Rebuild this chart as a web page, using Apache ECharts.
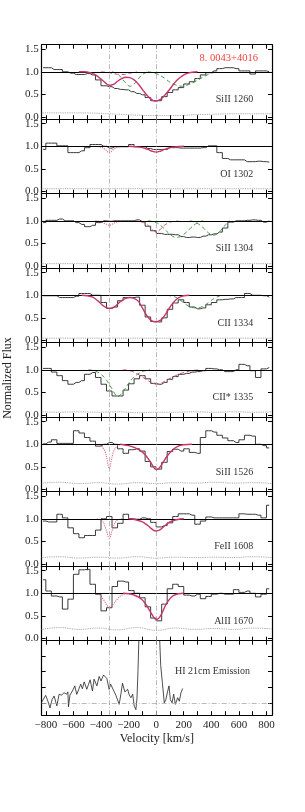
<!DOCTYPE html>
<html><head><meta charset="utf-8">
<script src="https://cdn.jsdelivr.net/npm/echarts@6/dist/echarts.min.js"></script>
<style>html,body{margin:0;padding:0;background:#fff}#c{width:305px;height:812px}</style>
</head><body><div id="c"></div>
<script>
// ---------- DATA ----------
const velGrid = [-820,-780,-740,-700,-660,-620,-580,-540,-500,-460,-420,-380,-340,-300,-260,-220,-180,-140,-100,-60,-20,20,60,100,140,180,220,260,300,340,380,420,460,500,540,580,620,660,700,740,780,820];
const flux1260 = [1.09,1.09,1.05,1.05,1.0,0.97,0.94,0.94,0.96,0.93,0.82,0.69,0.67,0.63,0.61,0.60,0.56,0.52,0.49,0.43,0.36,0.36,0.45,0.54,0.60,0.65,0.73,0.78,0.85,0.93,0.98,1.02,1.07,1.09,1.09,1.07,1.02,1.02,0.95,1.02,1.02,1.0];
const flux1302 = [0.93,1.07,1.07,1.01,1.01,0.86,0.86,0.9,0.97,1.04,1.04,1.0,0.96,0.99,0.99,0.99,1.04,0.99,0.99,0.95,0.93,0.93,0.93,0.97,0.97,0.96,0.96,0.96,0.96,0.97,1.01,1.01,0.86,0.73,0.7,0.7,0.7,0.66,0.66,0.67,0.66,0.65];
const flux1304 = [0.96,1.01,1.01,1.04,1.0,1.0,0.96,0.92,0.87,0.9,0.96,1.0,0.99,1.0,1.0,1.0,1.0,1.02,0.98,0.88,0.78,0.72,0.70,0.70,0.69,0.65,0.63,0.64,0.63,0.66,0.69,0.71,0.75,0.84,0.97,1.0,1.0,1.01,1.02,1.01,0.97,1.0];
const flux1334 = [0.99,0.99,0.99,0.95,0.95,0.95,0.98,1.04,1.04,1.0,1.0,0.84,0.71,0.74,0.88,0.95,0.95,0.96,0.78,0.52,0.42,0.41,0.5,0.69,0.83,0.9,0.84,0.74,0.7,0.72,0.79,0.84,0.9,0.91,0.92,0.95,0.95,1.04,1.0,1.0,0.99,0.96];
const flux1335 = [1.03,1.03,0.95,0.87,0.76,0.68,0.72,0.76,0.9,0.94,0.83,0.68,0.53,0.42,0.42,0.55,0.69,0.8,0.87,0.8,0.7,0.68,0.72,0.79,0.85,0.9,0.92,0.95,0.96,0.98,1.03,1.02,1.0,0.96,0.96,1.0,1.12,1.09,0.98,0.83,1.02,1.05];
const flux1526 = [1.01,1.05,1.1,1.02,1.02,1.02,1.3,1.25,1.15,1.07,0.96,1.0,1.04,1.0,0.9,0.8,0.88,0.9,0.85,0.62,0.5,0.45,0.6,0.84,0.89,0.85,0.9,0.82,0.8,1.15,1.3,1.27,1.2,1.14,1.08,1.04,1.1,1.2,1.18,1.0,0.97,0.92];
const flux1608 = [0.95,0.93,0.93,1.1,1.02,0.8,0.67,0.58,0.63,0.63,0.75,1.0,1.05,0.8,0.9,1.1,1.0,0.99,1.02,1.0,0.92,0.82,0.85,0.91,1.05,1.11,1.11,1.08,0.88,0.95,1.04,1.02,1.02,1.02,1.02,1.02,1.11,1.1,1.1,1.08,1.02,1.3];
const flux1670 = [1.3,1.05,0.94,0.92,0.65,0.87,1.42,1.52,1.53,1.2,0.98,0.61,0.68,1.15,1.27,1.25,1.06,1.0,0.9,0.7,0.45,0.39,0.76,1.1,1.2,1.15,0.96,0.94,0.98,0.88,0.93,0.98,1.0,0.98,0.98,1.08,1.02,1.05,1.0,0.92,0.98,1.1];

const errVel = [-830,-700,-560,-420,-280,-140,0,140,280,420,560,700,840];
const err1260 = [0.09,0.09,0.09,0.08,0.06,0.04,0.03,0.03,0.05,0.06,0.07,0.07,0.07];
const err1302 = [0.06,0.06,0.06,0.06,0.06,0.06,0.06,0.06,0.06,0.06,0.06,0.06,0.06];
const err1304 = [0.05,0.05,0.05,0.05,0.05,0.05,0.05,0.05,0.05,0.05,0.05,0.05,0.05];
const err1334 = [0.05,0.05,0.05,0.05,0.05,0.05,0.05,0.05,0.05,0.05,0.05,0.05,0.05];
const err1335 = [0.07,0.06,0.07,0.06,0.07,0.05,0.06,0.06,0.07,0.06,0.07,0.06,0.07];
const err1526 = [0.14,0.16,0.13,0.15,0.12,0.15,0.13,0.15,0.14,0.16,0.14,0.15,0.13];
const err1608 = [0.14,0.16,0.13,0.15,0.13,0.16,0.13,0.15,0.14,0.15,0.14,0.16,0.14];
const err1670 = [0.2,0.24,0.2,0.23,0.19,0.24,0.18,0.23,0.2,0.22,0.2,0.23,0.21];

// model components
const fit1260Vel = [-560,-520,-480,-440,-400,-370,-340,-310,-280,-250,-220,-190,-160,-130,-100,-70,-40,-20,0,20,40,70,100,130,160,190,220,260,300];
const fit1260Flux = [1.0,1.0,0.98,0.93,0.84,0.76,0.70,0.72,0.79,0.85,0.88,0.87,0.82,0.73,0.61,0.49,0.40,0.36,0.35,0.37,0.41,0.51,0.62,0.74,0.84,0.91,0.96,0.99,1.0];
const grnA1260Vel = [-320,-280,-250,-220,-190,-160,-130,-100,-60];
const grnA1260Flux = [1.0,0.95,0.86,0.75,0.68,0.73,0.84,0.94,1.0];
const grnB1260Vel = [-60,0,60,100,140,180,220,280,340,400,440];
const grnB1260Flux = [1.0,0.96,0.86,0.77,0.71,0.68,0.7,0.78,0.88,0.97,1.0];
const red1260Vel = [-400,-340,-290,-240,-190,-140];
const red1260Flux = [1.0,0.98,0.95,0.94,0.97,1.0];

const fit1302Vel = [-200,-150,-100,-60,-30,0,30,60,100,150,200];
const fit1302Flux = [1.0,0.99,0.97,0.93,0.89,0.87,0.89,0.93,0.97,0.99,1.0];
const dot1302Vel = [-440,-400,-370,-340,-310,-280,-240];
const dot1302Flux = [1.0,0.98,0.93,0.86,0.93,0.98,1.0];

const dot1304Vel = [-440,-400,-370,-340,-310,-280,-240];
const dot1304Flux = [1.0,0.98,0.94,0.9,0.94,0.98,1.0];
const red1304Vel = [-160,-100,-60,-30,0,30,60,100,160];
const red1304Flux = [1.0,0.97,0.9,0.81,0.76,0.81,0.9,0.97,1.0];
const grnA1304Vel = [-60,0,50,100,147,200,250,300,340];
const grnA1304Flux = [1.0,0.96,0.85,0.7,0.63,0.7,0.84,0.96,1.0];
const grnB1304Vel = [245,290,340,380,413,450,490,535];
const grnB1304Flux = [1.0,0.96,0.85,0.73,0.68,0.73,0.87,1.0];

const fit1334Vel = [-540,-500,-460,-420,-380,-340,-300,-260,-220,-190,-160,-130,-100,-70,-40,-20,0,20,40,70,100,130,160,200,240];
const fit1334Flux = [1.0,0.99,0.96,0.87,0.76,0.71,0.75,0.86,0.93,0.95,0.93,0.87,0.72,0.56,0.45,0.42,0.41,0.43,0.47,0.59,0.74,0.86,0.94,0.99,1.0];
const grn1334Vel = [80,140,180,220,260,300,340,380,420,470];
const grn1334Flux = [1.0,0.96,0.88,0.79,0.73,0.72,0.76,0.84,0.93,1.0];

const grn1335Vel = [-490,-440,-400,-360,-320,-278,-240,-200,-160,-120,-80,-45];
const grn1335Flux = [1.0,0.97,0.9,0.77,0.58,0.41,0.52,0.7,0.84,0.93,0.98,1.0];
const red1335Vel = [-240,-180,-120,-60,0,60,120,180,240,316];
const red1335Flux = [1.0,0.97,0.88,0.76,0.68,0.74,0.84,0.92,0.97,1.0];

const dot1526Vel = [-440,-400,-370,-355,-340,-325,-310,-280,-240];
const dot1526Flux = [1.0,0.97,0.83,0.64,0.46,0.64,0.83,0.97,1.0];
const fit1526Vel = [-260,-200,-160,-120,-80,-40,-20,0,20,40,80,120,160,200,260];
const fit1526Flux = [1.0,0.97,0.93,0.87,0.77,0.6,0.5,0.44,0.47,0.55,0.74,0.88,0.96,0.99,1.0];

const dot1608Vel = [-430,-390,-365,-340,-315,-290,-250];
const dot1608Flux = [1.0,0.95,0.78,0.57,0.78,0.95,1.0];
const fit1608Vel = [-200,-150,-100,-60,-30,0,30,60,100,150,200];
const fit1608Flux = [1.0,0.98,0.93,0.85,0.77,0.73,0.76,0.84,0.93,0.98,1.0];

const dot1670Vel = [-440,-410,-380,-340,-310,-280,-250,-210];
const dot1670Flux = [1.0,0.97,0.85,0.7,0.76,0.88,0.96,1.0];
const fit1670Vel = [-240,-200,-160,-120,-80,-40,-20,0,20,40,80,120,160,200];
const fit1670Flux = [1.0,0.99,0.96,0.9,0.78,0.58,0.48,0.42,0.45,0.55,0.8,0.94,0.99,1.0];

// HI 21cm emission (arbitrary units)
const hiVel = [-833,-801,-785,-770,-755,-740,-720,-704,-685,-668,-650,-640,-636,-625,-607,-590,-576,-560,-547,-535,-522,-503,-490,-479,-462,-450,-430,-413,-400,-382,-358,-341,-330,-316,-292,-268,-255,-244,-227,-207,-195,-183,-170,-159,-147,-139,-132,-124,-110,-80,-50,-20,0,15,25,33,45,59,70,84,93,103,115,127,139,156,168,180,192];
const hiFlux = [0.0,0.48,0.1,-0.33,0.2,0.44,-0.2,0.54,0.5,0.65,0.55,0.7,-0.26,0.5,0.76,1.09,0.54,0.9,1.2,0.9,1.35,0.87,1.2,1.48,0.76,1.52,1.09,1.7,1.4,1.79,1.57,0.87,1.2,1.09,0.48,-0.1,0.6,1.26,0.7,0.87,0.5,0.33,0.55,-0.22,-0.44,0.3,2.0,4.5,8,14,18,16,14,9,4.2,2.4,1.3,0.0,0.2,0.76,1.09,0.2,0.0,0.55,-0.1,0.33,0.1,0.65,0.92];

const xTickVals = [-800,-700,-600,-500,-400,-300,-200,-100,0,100,200,300,400,500,600,700,800];
const xLabelVals = [-800,-600,-400,-200,0,200,400,600,800];
const yTickVals = [0,0.5,1.0,1.5];
const hiTickVals = [0,1,2,3];
const refVelocities = [0,-340];
const continuumLevel = 1;
const objectName = '8. 0043+4016';

// ---------- PANEL TABLE ----------
const panels = [
  {label:'SiII 1260', flux:flux1260, err:err1260, models:[
    ['green',grnA1260Vel,grnA1260Flux],['green',grnB1260Vel,grnB1260Flux],['reddash',red1260Vel,red1260Flux],['fit',fit1260Vel,fit1260Flux]]},
  {label:'OI 1302', flux:flux1302, err:err1302, models:[
    ['dot',dot1302Vel,dot1302Flux],['fit',fit1302Vel,fit1302Flux]]},
  {label:'SiII 1304', flux:flux1304, err:err1304, models:[
    ['dot',dot1304Vel,dot1304Flux],['green',grnA1304Vel,grnA1304Flux],['green',grnB1304Vel,grnB1304Flux],['reddash',red1304Vel,red1304Flux]]},
  {label:'CII 1334', flux:flux1334, err:err1334, models:[
    ['green',grn1334Vel,grn1334Flux],['fit',fit1334Vel,fit1334Flux]]},
  {label:'CII* 1335', flux:flux1335, err:err1335, models:[
    ['green',grn1335Vel,grn1335Flux],['reddash',red1335Vel,red1335Flux]]},
  {label:'SiII 1526', flux:flux1526, err:err1526, models:[
    ['dot',dot1526Vel,dot1526Flux],['fit',fit1526Vel,fit1526Flux]]},
  {label:'FeII 1608', flux:flux1608, err:err1608, models:[
    ['dot',dot1608Vel,dot1608Flux],['fit',fit1608Vel,fit1608Flux]]},
  {label:'AlII 1670', flux:flux1670, err:err1670, models:[
    ['dot',dot1670Vel,dot1670Flux],['fit',fit1670Vel,fit1670Flux]]}
];

// ---------- STYLE / LAYOUT ----------
const FONT = '"Liberation Serif","DejaVu Serif",serif';
const top0 = 44.7, ph = 74.5, gl = 41.7, gw = 230.3;
const xMin = -830, xMax = 840;
const modelStyle = {
  fit:{color:'#c9346a', width:1.4, type:'solid'},
  dot:{color:'#e0607e', width:1.1, type:'dotted'},
  reddash:{color:'#d84a70', width:1, type:[4,3]},
  green:{color:'#3f9a3f', width:1, type:[4,3]}
};
const zip = (a,b)=>a.map((v,k)=>[v,b[k]]);

const grids=[], xAxes=[], yAxes=[], series=[], titles=[];
const nP = panels.length + 1;
const axLine = {show:true, onZero:false, lineStyle:{color:'#000', width:1.2}};
for (let i=0;i<nP;i++){
  const T = top0 + i*ph;
  const last = i===nP-1;
  grids.push({left:gl, top:T, width:gw, height:ph, containLabel:false});
  const xt = {show:true, inside:true, length:4, customValues:xTickVals, lineStyle:{color:'#000', width:1}};
  xAxes.push({type:'value', gridIndex:i, position:'bottom', min:xMin, max:xMax, axisLine:axLine, axisTick:xt,
    axisLabel:{show:last, customValues:xLabelVals, formatter:v=>String(v).replace('-','\u2212'), fontFamily:FONT, fontSize:11, color:'#222', margin:4},
    splitLine:{show:false},
    name:last?'Velocity [km/s]':'', nameLocation:'middle', nameGap:18, nameTextStyle:{fontFamily:FONT, fontSize:12, color:'#222'}});
  xAxes.push({type:'value', gridIndex:i, position:'top', min:xMin, max:xMax, axisLine:axLine, axisTick:xt,
    axisLabel:{show:false}, splitLine:{show:false}});
  const yMin = last ? -0.8 : -0.05, yMax = last ? 4 : 1.6;
  const yt = {show:true, inside:true, length:4, customValues: last?hiTickVals:yTickVals, lineStyle:{color:'#000', width:1}};
  yAxes.push({type:'value', gridIndex:i, position:'left', min:yMin, max:yMax, axisLine:axLine, axisTick:yt,
    axisLabel:{show:!last, customValues:yTickVals, formatter:v=>v.toFixed(1), fontFamily:FONT, fontSize:11, color:'#222', margin:3},
    splitLine:{show:false}});
  yAxes.push({type:'value', gridIndex:i, position:'right', min:yMin, max:yMax, axisLine:axLine, axisTick:yt,
    axisLabel:{show:false}, splitLine:{show:false}});

  const refLines = refVelocities.map(v=>({xAxis:v, lineStyle:{color:'#aaa', width:0.8, type:[5,2,1,2]}}));
  if (!last){
    const p = panels[i];
    // error spectrum
    series.push({type:'line', xAxisIndex:2*i, yAxisIndex:2*i, data:zip(errVel,p.err), symbol:'none', smooth:0.5,
      lineStyle:{color:'#999', width:0.9, type:'dotted'}, z:2, silent:true});
    // data histogram
    series.push({type:'line', xAxisIndex:2*i, yAxisIndex:2*i, data:zip(velGrid,p.flux), step:'middle', symbol:'none',
      lineStyle:{color:'#3a3a3a', width:1}, z:3, silent:true,
      markLine:{silent:true, symbol:['none','none'], label:{show:false}, animation:false,
        data:[{yAxis:continuumLevel, lineStyle:{color:'#000', width:1, type:'solid'}}].concat(refLines)}});
    p.models.forEach(m=>{
      series.push({type:'line', xAxisIndex:2*i, yAxisIndex:2*i, data:zip(m[1],m[2]), symbol:'none', smooth:0.4,
        lineStyle:modelStyle[m[0]], z: m[0]==='fit'?5:4, silent:true});
    });
    titles.push({text:p.label, right:51.7, top:T+50, padding:0,
      textStyle:{fontFamily:FONT, fontSize:10, fontWeight:'normal', color:'#333'}});
  } else {
    series.push({type:'line', xAxisIndex:2*i, yAxisIndex:2*i, data:zip(hiVel,hiFlux), symbol:'none',
      lineStyle:{color:'#222', width:0.8}, z:3, silent:true, clip:true,
      markLine:{silent:true, symbol:['none','none'], label:{show:false}, animation:false,
        data:[{yAxis:0, lineStyle:{color:'#aaa', width:0.8, type:[5,2,1,2]}}].concat(refLines)}});
    titles.push({text:'HI 21cm Emission', right:55, top:T+26, padding:0,
      textStyle:{fontFamily:FONT, fontSize:10, fontWeight:'normal', color:'#333'}});
  }
}
titles.push({text:objectName, right:47, top:53, padding:0,
  textStyle:{fontFamily:FONT, fontSize:10.5, fontWeight:'normal', color:'#f0403c'}});

const chart = echarts.init(document.getElementById('c'), null, {renderer:'canvas'});
chart.setOption({
  animation:false,
  backgroundColor:'#fff',
  title:titles,
  grid:grids, xAxis:xAxes, yAxis:yAxes, series:series,
  graphic:[{type:'text', x:8, y:378, rotation:Math.PI/2,
    style:{text:'Normalized Flux', font:'12px "Liberation Serif"', fill:'#222', align:'center', verticalAlign:'middle'}}]
});
</script>
</body></html>
